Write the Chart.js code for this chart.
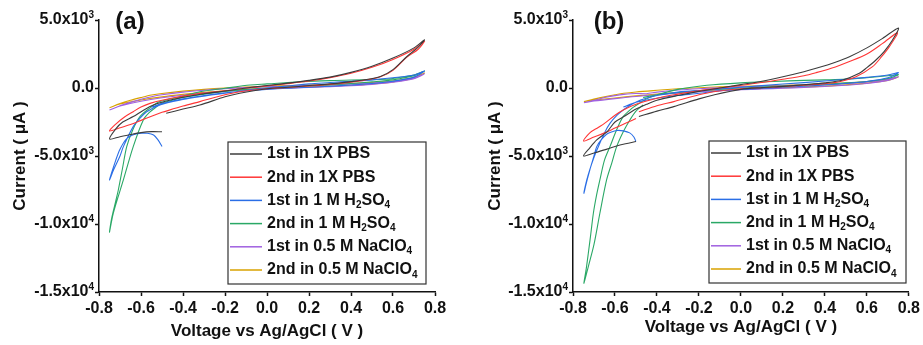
<!DOCTYPE html>
<html>
<head>
<meta charset="utf-8">
<script src="https://cdn.jsdelivr.net/npm/chart.js@4.4.1/dist/chart.umd.min.js"></script>
<style>
  html, body { margin: 0; padding: 0; background: #fff; }
  #wrap { position: relative; width: 923px; height: 345px; }
  #chartA { position: absolute; left: 0; top: 0; }
  #chartB { position: absolute; left: 462px; top: 0; }
</style>
</head>
<body>
<div id="wrap">
  <canvas id="chartA" width="462" height="345"></canvas>
  <canvas id="chartB" width="461" height="345"></canvas>
</div>
<script>
// ---- data (voltage V, current uA) ----
const seriesLabels = ['1st in 1X PBS', '2nd in 1X PBS', '1st in 1 M H₂SO₄', '2nd in 1 M H₂SO₄', '1st in 0.5 M NaClO₄', '2nd in 0.5 M NaClO₄'];
const xTickValues = [-0.8, -0.6, -0.4, -0.2, 0, 0.2, 0.4, 0.6, 0.8];
const xTickLabels = ['-0.8', '-0.6', '-0.4', '-0.2', '0.0', '0.2', '0.4', '0.6', '0.8'];
const yTickValues = [-15000, -10000, -5000, 0, 5000];
const yTickLabels = ['-1.5x10⁴', '-1.0x10⁴', '-5.0x10³', '0.0', '5.0x10³'];

// panel (a)
const aPbs1 = [[-0.50,-3220],[-0.55,-3210],[-0.60,-3280],[-0.65,-3420],[-0.70,-3580],[-0.75,-3750],
  [-0.72,-3000],[-0.687,-2500],[-0.637,-2100],[-0.59,-1650],[-0.541,-1250],[-0.48,-950],[-0.40,-680],[-0.30,-420],[-0.20,-220],[-0.10,0],[0.00,180],[0.10,360],[0.20,560],[0.30,800],[0.40,1150],[0.50,1600],[0.60,2200],[0.70,2950],[0.75,3550],
  [0.72,3000],[0.665,2300],[0.60,1350],[0.54,850],[0.46,590],[0.40,470],[0.30,300],[0.20,180],[0.10,50],[0.00,-50],[-0.13,-390],[-0.20,-650],[-0.32,-1250],[-0.40,-1550],[-0.48,-1860]];
const aPbs2 = [[-0.50,-1790],[-0.55,-2080],[-0.60,-2380],[-0.65,-2680],[-0.70,-2930],[-0.75,-3160],
  [-0.72,-2650],[-0.68,-2150],[-0.637,-1740],[-0.60,-1400],[-0.557,-1130],[-0.50,-900],[-0.40,-600],[-0.30,-380],[-0.20,-200],[-0.10,-20],[0.00,150],[0.10,320],[0.20,510],[0.30,760],[0.40,1080],[0.50,1520],[0.60,2100],[0.70,2850],[0.75,3450],
  [0.72,2850],[0.665,2250],[0.60,1300],[0.54,820],[0.46,560],[0.40,430],[0.30,270],[0.20,150],[0.10,40],[0.00,-50],[-0.13,-270],[-0.20,-500],[-0.32,-1000],[-0.40,-1330],[-0.50,-1790]];
const aH2so1 = [[-0.50,-4300],[-0.52,-3800],[-0.54,-3450],[-0.57,-3330],[-0.60,-3330],[-0.64,-3450],[-0.67,-3750],[-0.70,-4500],[-0.72,-5300],[-0.75,-6760],
  [-0.73,-6000],[-0.70,-5000],[-0.684,-4310],[-0.637,-2840],[-0.60,-2150],[-0.573,-1740],[-0.51,-1250],[-0.40,-850],[-0.32,-640],[-0.20,-380],[-0.08,-150],[0.00,0],[0.10,150],[0.20,300],[0.30,400],[0.40,500],[0.50,600],[0.60,750],[0.70,950],[0.75,1250],
  [0.70,800],[0.60,500],[0.50,330],[0.40,220],[0.30,130],[0.20,60],[0.10,-20],[0.00,-100],[-0.10,-200],[-0.20,-350],[-0.30,-550],[-0.40,-800],[-0.50,-1150],[-0.55,-1400]];
const aH2so2 = [[-0.50,-1100],[-0.525,-1370],[-0.56,-1800],[-0.589,-2350],[-0.637,-4310],[-0.684,-6760],[-0.732,-9210],[-0.75,-10600],
  [-0.74,-9600],[-0.72,-8300],[-0.708,-7500],[-0.688,-5900],[-0.668,-4310],[-0.64,-3100],[-0.605,-2110],[-0.56,-1500],[-0.51,-1000],[-0.40,-600],[-0.32,-270],[-0.20,-20],[-0.08,220],[0.00,300],[0.157,460],[0.30,540],[0.40,590],[0.54,620],[0.60,700],[0.70,950],[0.75,1250],
  [0.70,900],[0.60,600],[0.50,450],[0.40,330],[0.30,230],[0.20,150],[0.10,70],[0.00,0],[-0.10,-100],[-0.20,-250],[-0.30,-450],[-0.40,-700],[-0.50,-1100]];
const aNaclo1 = [[-0.75,-1620],[-0.70,-1300],[-0.65,-1050],[-0.60,-830],[-0.55,-640],[-0.50,-500],[-0.40,-300],[-0.30,-160],[-0.20,-50],[-0.10,30],[0.00,90],[0.10,140],[0.20,190],[0.30,240],[0.40,300],[0.50,370],[0.60,480],[0.70,740],[0.75,1050],
  [0.70,680],[0.60,420],[0.50,270],[0.40,170],[0.30,100],[0.20,40],[0.10,-10],[0.00,-70],[-0.10,-140],[-0.20,-240],[-0.30,-370],[-0.40,-530],[-0.50,-720],[-0.60,-980],[-0.70,-1330],[-0.75,-1620]];
const aNaclo2 = [[-0.75,-1450],[-0.70,-1150],[-0.65,-900],[-0.60,-700],[-0.55,-520],[-0.50,-400],[-0.40,-230],[-0.30,-100],[-0.20,0],[-0.10,70],[0.00,130],[0.10,180],[0.20,220],[0.30,270],[0.40,330],[0.50,400],[0.60,520],[0.70,780],[0.75,1100],
  [0.70,720],[0.60,450],[0.50,300],[0.40,200],[0.30,130],[0.20,70],[0.10,20],[0.00,-40],[-0.10,-110],[-0.20,-200],[-0.30,-320],[-0.40,-470],[-0.50,-650],[-0.60,-880],[-0.70,-1180],[-0.75,-1450]];

// panel (b)
const bPbs1 = [[-0.50,-3940],[-0.55,-4100],[-0.60,-4300],[-0.65,-4550],[-0.70,-4780],[-0.75,-5000],
  [-0.72,-4400],[-0.687,-3820],[-0.637,-3200],[-0.60,-2500],[-0.558,-2100],[-0.50,-1550],[-0.45,-1200],[-0.40,-900],[-0.30,-550],[-0.20,-250],[-0.10,0],[0.00,250],[0.10,500],[0.20,830],[0.30,1200],[0.358,1450],[0.45,1900],[0.517,2300],[0.60,2950],[0.675,3650],[0.75,4400],
  [0.722,3530],[0.683,2700],[0.643,2060],[0.60,1500],[0.564,1080],[0.485,590],[0.40,380],[0.30,240],[0.20,120],[0.10,30],[0.00,-100],[-0.13,-515],[-0.20,-800],[-0.32,-1370],[-0.40,-1700],[-0.486,-2100]];
const bPbs2 = [[-0.50,-2250],[-0.55,-2600],[-0.60,-2950],[-0.65,-3300],[-0.70,-3600],[-0.75,-3900],
  [-0.72,-3300],[-0.68,-2900],[-0.65,-2600],[-0.60,-2000],[-0.558,-1600],[-0.50,-1200],[-0.40,-750],[-0.30,-450],[-0.20,-200],[-0.10,0],[0.00,200],[0.10,400],[0.20,640],[0.30,900],[0.358,1130],[0.45,1550],[0.517,1940],[0.60,2500],[0.675,3280],[0.746,4070],
  [0.707,3040],[0.67,2300],[0.627,1570],[0.548,830],[0.469,460],[0.40,320],[0.30,200],[0.20,100],[0.10,20],[0.00,-50],[-0.13,-270],[-0.20,-500],[-0.32,-1000],[-0.40,-1300],[-0.486,-1740]];
const bH2so1 = [[-0.50,-3940],[-0.51,-3600],[-0.53,-3300],[-0.56,-3150],[-0.59,-3120],[-0.62,-3250],[-0.64,-3400],[-0.665,-3800],[-0.687,-4310],[-0.70,-5000],[-0.72,-6030],[-0.735,-6900],[-0.748,-7740],
  [-0.735,-6800],[-0.72,-6000],[-0.70,-5100],[-0.687,-4600],[-0.65,-3300],[-0.624,-2600],[-0.59,-2000],[-0.561,-1620],[-0.52,-1200],[-0.478,-880],[-0.40,-550],[-0.30,-300],[-0.162,-147],[0.00,50],[0.20,290],[0.40,510],[0.60,780],[0.70,950],[0.75,1130],
  [0.70,750],[0.60,480],[0.50,330],[0.40,220],[0.30,130],[0.20,50],[0.10,-30],[0.00,-100],[-0.10,-200],[-0.20,-390],[-0.30,-550],[-0.40,-750],[-0.50,-1050],[-0.56,-1400]];
const bH2so2 = [[-0.466,-1250],[-0.50,-1700],[-0.529,-2350],[-0.56,-3200],[-0.592,-4310],[-0.615,-5500],[-0.64,-6760],[-0.672,-9210],[-0.70,-11500],[-0.727,-13130],[-0.748,-14360],
  [-0.737,-13300],[-0.727,-12150],[-0.715,-10700],[-0.703,-9210],[-0.688,-7900],[-0.672,-6760],[-0.65,-5300],[-0.624,-4310],[-0.59,-3000],[-0.561,-2110],[-0.52,-1500],[-0.497,-1250],[-0.45,-800],[-0.40,-500],[-0.30,-100],[-0.162,200],[0.00,380],[0.155,480],[0.30,560],[0.40,600],[0.50,650],[0.60,760],[0.70,900],[0.75,980],
  [0.70,700],[0.60,480],[0.50,380],[0.40,290],[0.20,150],[0.00,0],[-0.20,-200],[-0.40,-500],[-0.466,-700]];
const bNaclo1 = [[-0.748,-1080],[-0.70,-900],[-0.65,-700],[-0.60,-560],[-0.558,-470],[-0.50,-400],[-0.45,-420],[-0.40,-300],[-0.30,-150],[-0.20,-50],[-0.10,20],[0.00,80],[0.10,130],[0.20,170],[0.30,210],[0.40,260],[0.50,330],[0.60,450],[0.70,650],[0.75,820],
  [0.70,560],[0.60,330],[0.50,200],[0.40,110],[0.30,40],[0.20,-20],[0.10,-70],[0.00,-130],[-0.10,-200],[-0.20,-280],[-0.30,-380],[-0.40,-500],[-0.50,-620],[-0.60,-780],[-0.70,-960],[-0.748,-1080]];
const bNaclo2 = [[-0.748,-1000],[-0.70,-820],[-0.65,-650],[-0.60,-500],[-0.558,-390],[-0.50,-290],[-0.40,-170],[-0.30,-60],[-0.20,20],[-0.10,80],[0.00,130],[0.10,170],[0.20,200],[0.30,240],[0.40,290],[0.50,360],[0.60,470],[0.70,640],[0.75,800],
  [0.70,560],[0.60,360],[0.50,230],[0.40,140],[0.30,70],[0.20,10],[0.10,-40],[0.00,-90],[-0.10,-150],[-0.20,-230],[-0.30,-330],[-0.40,-450],[-0.50,-580],[-0.60,-730],[-0.70,-900],[-0.748,-1000]];

// ---- styling ----
const FONT = "'Liberation Sans', Arial, sans-serif";
const lineColors = ['#3c3c3c', '#ff3535', '#2a6ee6', '#2aa866', '#a060e0', '#d8a200'];
const SUBS = '₀₁₂₃₄₅₆₇₈₉';
const SUPS = '⁰¹²³⁴⁵⁶⁷⁸⁹';

Chart.defaults.font.family = FONT;
Chart.defaults.color = '#111';

// split text into normal / sub / sup runs
function richRuns(text) {
  const runs = [];
  for (const ch of text) {
    let kind = 0, c = ch;
    if (SUBS.indexOf(ch) >= 0) { kind = 1; c = String(SUBS.indexOf(ch)); }
    else if (SUPS.indexOf(ch) >= 0) { kind = 2; c = String(SUPS.indexOf(ch)); }
    if (runs.length && runs[runs.length - 1].kind === kind) runs[runs.length - 1].t += c;
    else runs.push({ t: c, kind: kind });
  }
  return runs;
}

function drawRich(ctx, text, x, y, size, alignRight) {
  const runs = richRuns(text);
  const fontFor = r => 'bold ' + (r.kind ? Math.round(size * 0.64) : size) + 'px ' + FONT;
  if (alignRight) {
    let w = 0;
    runs.forEach(r => { ctx.font = fontFor(r); w += ctx.measureText(r.t).width; });
    x -= w;
  }
  runs.forEach(r => {
    ctx.font = fontFor(r);
    const dy = r.kind === 1 ? size * 0.3 : (r.kind === 2 ? -size * 0.3 : 0);
    ctx.fillText(r.t, x, y + dy);
    x += ctx.measureText(r.t).width;
  });
}

const panelDecor = {
  id: 'panelDecor',
  afterDraw(chart, args, opts) {
    const ctx = chart.ctx;
    ctx.save();
    ctx.textBaseline = 'middle';
    ctx.textAlign = 'left';
    ctx.fillStyle = '#111';

    // y tick labels with superscript exponents
    const ys = chart.scales.y;
    yTickValues.forEach((v, i) => {
      drawRich(ctx, yTickLabels[i], ys.right - 5, ys.getPixelForValue(v), 16, true);
    });

    // panel tag
    ctx.font = 'bold 24px ' + FONT;
    ctx.textAlign = 'center';
    ctx.fillText(opts.tag, opts.tagX, opts.tagY);
    ctx.textAlign = 'left';

    // legend box
    const [bx, by, bw, bh] = opts.box;
    ctx.fillStyle = '#fff';
    ctx.fillRect(bx, by, bw, bh);
    ctx.strokeStyle = '#333';
    ctx.lineWidth = 1.2;
    ctx.strokeRect(bx, by, bw, bh);
    chart.data.datasets.forEach((ds, i) => {
      const y = by + 12 + i * 23.2;
      ctx.strokeStyle = ds.borderColor;
      ctx.lineWidth = 1.5;
      ctx.beginPath();
      ctx.moveTo(bx + 2, y);
      ctx.lineTo(bx + opts.lineLen, y);
      ctx.stroke();
      ctx.fillStyle = '#111';
      drawRich(ctx, ds.label, bx + opts.lineLen + 5, y, 16, false);
    });
    ctx.restore();
  }
};

function makeChart(id, series, layout) {
  const datasets = series.map((arr, i) => ({
    label: seriesLabels[i],
    data: arr.map(p => ({ x: p[0], y: p[1] })),
    showLine: true,
    borderColor: lineColors[i],
    borderWidth: 1.1,
    pointRadius: 0,
    tension: 0.3,
    fill: false
  }));
  const axisTitleFont = { family: FONT, size: 17, weight: 'bold' };
  const tickFont = { family: FONT, size: 16, weight: 'bold' };
  return new Chart(document.getElementById(id), {
    type: 'scatter',
    data: { datasets: datasets },
    plugins: [panelDecor],
    options: {
      responsive: false,
      animation: false,
      layout: { padding: { left: 0, right: layout.padRight, top: 20, bottom: 0 } },
      plugins: {
        legend: { display: false },
        tooltip: { enabled: false },
        panelDecor: layout.decor
      },
      scales: {
        x: {
          type: 'linear',
          min: -0.8,
          max: 0.8,
          afterBuildTicks: s => { s.ticks = xTickValues.map(v => ({ value: v })); },
          afterFit: s => { s.height = 53; },
          ticks: { font: tickFont, color: '#111', padding: 3, maxRotation: 0,
                   callback: (v, i) => xTickLabels[i] },
          grid: { drawOnChartArea: false, drawTicks: true, tickLength: 4, tickColor: '#111', tickWidth: 1.5 },
          border: { display: true, color: '#111', width: 1.5 },
          title: { display: true, text: 'Voltage vs Ag/AgCl ( V )', font: axisTitleFont, color: '#111',
                   padding: { top: 0, bottom: layout.xTitlePad } }
        },
        y: {
          type: 'linear',
          min: -15000,
          max: 5000,
          afterBuildTicks: s => { s.ticks = yTickValues.map(v => ({ value: v })); },
          afterFit: s => { s.width = layout.yWidth; },
          // labels are drawn by panelDecor so the exponents can be raised
          ticks: { font: tickFont, padding: 1, callback: () => '' },
          grid: { drawOnChartArea: false, drawTicks: true, tickLength: 4, tickColor: '#111', tickWidth: 1.5 },
          border: { display: true, color: '#111', width: 1.5 },
          title: { display: true, text: 'Current ( μA )', font: axisTitleFont, color: '#111',
                   padding: { top: layout.yTitlePad, bottom: 0 } }
        }
      }
    }
  });
}

makeChart('chartA', [aPbs1, aPbs2, aH2so1, aH2so2, aNaclo1, aNaclo2], {
  padRight: 27, yWidth: 99, yTitlePad: 10, xTitlePad: 3,
  decor: { tag: '(a)', tagX: 130, tagY: 22, box: [228, 142, 198, 142], lineLen: 34 }
});
makeChart('chartB', [bPbs1, bPbs2, bH2so1, bH2so2, bNaclo1, bNaclo2], {
  padRight: 13, yWidth: 111, yTitlePad: 23, xTitlePad: 7,
  decor: { tag: '(b)', tagX: 147, tagY: 22, box: [247, 141, 197, 142], lineLen: 32 }
});
</script>
</body>
</html>
